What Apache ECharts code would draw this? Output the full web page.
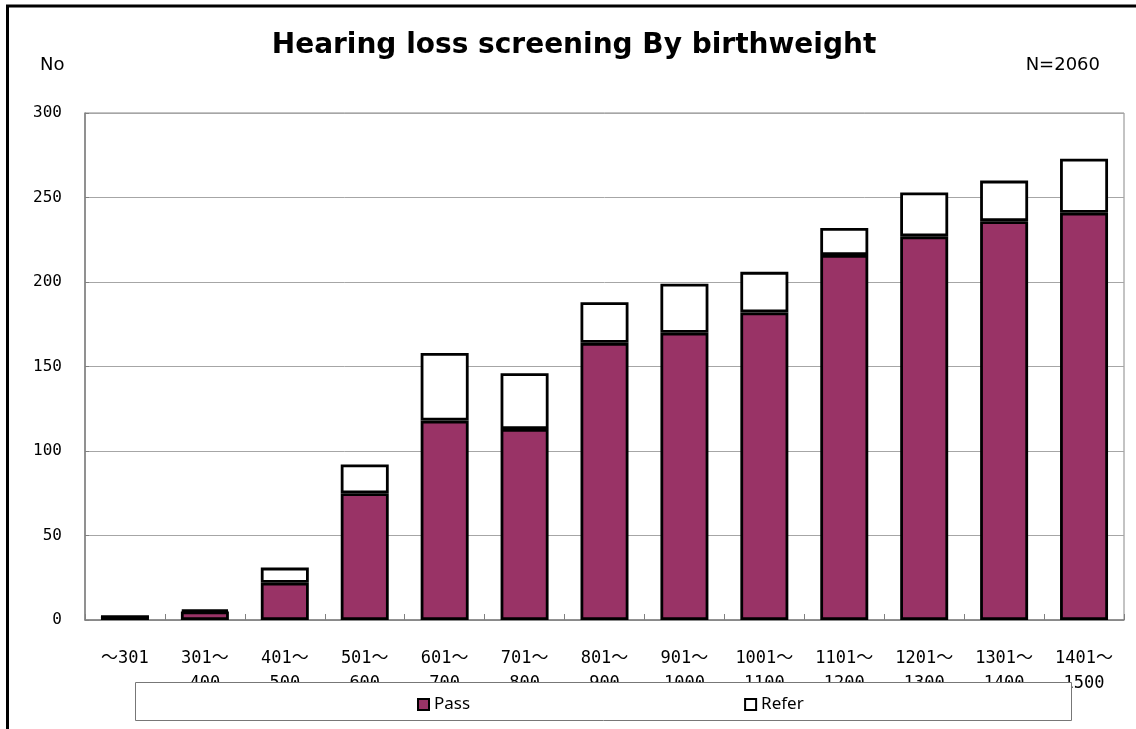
<!DOCTYPE html>
<html>
<head>
<meta charset="utf-8">
<script src="https://cdn.jsdelivr.net/npm/echarts@6/dist/echarts.min.js"></script>
<style>
  html, body { margin: 0; padding: 0; background: #fff; }
  #chart { width: 1136px; height: 729px; }
</style>
</head>
<body>
<div id="chart"></div>
<script>
// Birthweight bands (g)
const categories = [
  '～301', '301～\n400', '401～\n500', '501～\n600', '601～\n700', '701～\n800',
  '801～\n900', '901～\n1000', '1001～\n1100', '1101～\n1200', '1201～\n1300',
  '1301～\n1400', '1401～\n1500'
];
// Screening results per band
const passValues  = [2, 5, 22, 75, 118, 113, 164, 170, 182, 216, 227, 236, 241];
const referValues = [0, 1, 9, 17, 40, 33, 24, 29, 24, 16, 26, 24, 32];
const seriesNames = ['Pass', 'Refer'];
const yMin = 0, yMax = 300, yStep = 50;

const monoFont = '"DejaVu Sans Mono", "Noto Sans CJK JP", monospace';
const sansFont = '"DejaVu Sans", "Noto Sans", sans-serif';

const chart = echarts.init(document.getElementById('chart'), null, { renderer: 'canvas' });

const barBorder = { borderColor: '#000', borderWidth: 2.8 };

chart.setOption({
  backgroundColor: '#fff',
  animation: false,
  grid: {
    left: 85, right: 12, top: 113, bottom: 109,
    show: true, borderColor: '#888', borderWidth: 1
  },
  legend: {
    data: seriesNames,
    left: 412, top: 691,
    z: 20,
    icon: 'rect',
    itemWidth: 11, itemHeight: 11,
    itemGap: 274,
    itemStyle: { borderColor: '#000', borderWidth: 2 },
    textStyle: { fontFamily: '"Noto Sans", sans-serif', fontSize: 17, color: '#000' }
  },
  xAxis: {
    type: 'category',
    data: categories,
    axisLine: { lineStyle: { color: '#808080', width: 1.5 } },
    axisTick: { show: true, inside: true, length: 6, lineStyle: { color: '#808080' } },
    axisLabel: {
      interval: 0,
      margin: 26,
      fontFamily: monoFont, fontSize: 17, color: '#000',
      lineHeight: 25
    }
  },
  yAxis: {
    type: 'value',
    min: yMin, max: yMax, interval: yStep,
    axisLine: { show: true, lineStyle: { color: '#808080', width: 1.5 } },
    axisTick: { show: true, inside: true, length: 4, lineStyle: { color: '#808080' } },
    splitLine: { lineStyle: { color: '#a6a6a6', width: 1 } },
    axisLabel: {
      margin: 23,
      fontFamily: monoFont, fontSize: 16, color: '#000'
    }
  },
  series: [
    {
      name: seriesNames[0], type: 'bar', stack: 'total', barWidth: 48,
      data: passValues,
      itemStyle: Object.assign({ color: '#993366' }, barBorder)
    },
    {
      name: seriesNames[1], type: 'bar', stack: 'total', barWidth: 48,
      data: referValues,
      itemStyle: Object.assign({ color: '#ffffff' }, barBorder)
    }
  ],
  graphic: [
    // chart frame
    {
      type: 'rect', z: 30, silent: true,
      shape: { x: 7.5, y: 6, width: 1150, height: 760 },
      style: { fill: null, stroke: '#000', lineWidth: 3 }
    },
    // legend box, laid over the second line of the category labels
    {
      type: 'rect', z: 10, silent: true,
      shape: { x: 135.5, y: 682.5, width: 936, height: 38 },
      style: { fill: '#fff', stroke: '#777', lineWidth: 1 }
    },
    {
      type: 'text', z: 25,
      x: 574, y: 46,
      style: {
        text: 'Hearing loss screening By birthweight',
        fontFamily: '"DejaVu Sans", sans-serif', fontWeight: 'bold', fontSize: 28,
        fill: '#000', align: 'center', verticalAlign: 'middle'
      }
    },
    {
      type: 'text', z: 25,
      x: 40, y: 65,
      style: {
        text: 'No', fontFamily: sansFont, fontSize: 18, fill: '#000',
        align: 'left', verticalAlign: 'middle'
      }
    },
    {
      type: 'text', z: 25,
      x: 1100, y: 65,
      style: {
        text: 'N=2060', fontFamily: sansFont, fontSize: 18, fill: '#000',
        align: 'right', verticalAlign: 'middle'
      }
    }
  ]
});
</script>
</body>
</html>
